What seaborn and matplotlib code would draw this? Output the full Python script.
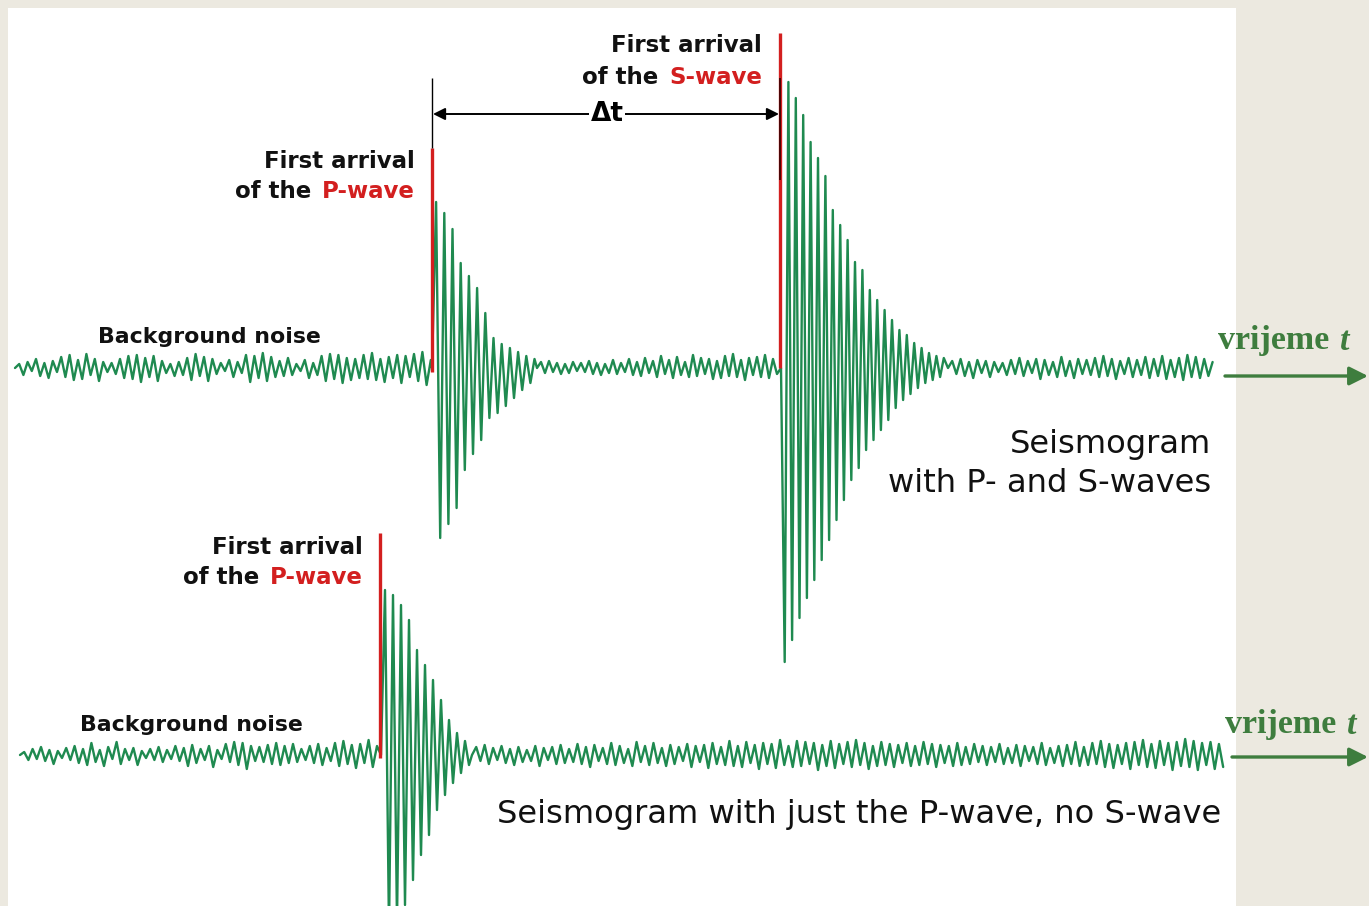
import numpy as np
import pandas as pd
import matplotlib
matplotlib.use("Agg")
import matplotlib.pyplot as plt
import seaborn as sns
from matplotlib.patches import Rectangle

# ---------------- data (pixel units, amplitude positive = up) ----------------
baselines = [368, 755]
p_arrivals = [432, 380]
s_arrival = 780

noise1_pre = [4,-7,6,-3,9,-8,5,-10,7,-4,11,-9,13,-12,8,-11,14,-7,9,-13,
              6,-4,5,-6,9,-10,12,-11,13,-14,10,-9,12,-13,7,-5,4,-8,6,-7,
              10,-12,14,-8,11,-13,9,-6,5,-3,8,-9,6,-5,13,-14,12,-10,15,-13,
              11,-9,7,-8,10,-7,4,-3,8,-10,5,-7,12,-13,14,-11,13,-15,10,-12,
              9,-10,13,-11,15,-12,9,-14,11,-10,13,-15,12,-9,14,-13,16,-17,8]
pwave1 = [166,-170,155,-156,139,-140,105,-102,92,-86,80,-72,55,-50,30,-45,
          24,-38,20,-30,16,-22,12,-15,9]
noise1_mid = [6,-5,7,-4,5,-6,4,-5,6,-3,5,-4,7,-6,5,-7,4,-5,8,-6,
              5,-4,9,-7,6,-8,10,-5,7,-9,12,-6,8,-10,11,-7,6,-9,13,-8,
              10,-6,9,-11,7,-10,12,-8,14,-9,8,-12,10,-7,11,-9,13,-10,9,-6]
swave1 = [-294,286,-272,270,-250,253,-230,226,-212,210,-192,192,-172,158,
          -152,143,-132,128,-112,106,-100,98,-82,78,-72,68,-62,58,-52,48,
          -40,38,-32,33,-26,25,-20,20,-15,15,-12,12,-9,10]
noise1_post = [7,-6,9,-8,6,-10,8,-5,7,-9,6,-4,5,-7,8,-6,10,-8,7,-5,
               9,-11,8,-7,6,-9,11,-8,7,-10,9,-6,8,-7,10,-9,12,-8,9,-11,
               7,-6,10,-9,8,-7,11,-10,9,-8,12,-11,8,-9,10,-12,13,-9,11,-10,
               9,-8,6]

noise2_pre = [3,-5,6,-4,8,-6,5,-9,4,-3,7,-5,9,-8,6,-10,12,-7,5,-11,
              8,-4,13,-9,6,-5,7,-10,4,-3,6,-5,8,-7,5,-4,9,-6,7,-11,
              10,-8,6,-5,9,-12,5,-4,11,-7,13,-10,12,-14,9,-6,8,-7,10,-9,
              12,-10,9,-8,11,-7,6,-5,9,-8,11,-10,7,-6,12,-11,14,-9,10,-13,
              11,-8,15,-12,9]
pwave2 = [165,-175,160,-168,150,-150,135,-125,105,-100,90,-80,75,-55,55,-40,
          35,-28,22,-18,14,-10]
noise2_post = [8,-6,10,-9,7,-5,9,-8,6,-10,8,-7,5,-6,9,-11,7,-5,8,-9,
               10,-8,6,-7,11,-9,8,-12,10,-6,7,-9,12,-10,9,-8,6,-11,13,-7,
               9,-10,12,-8,7,-11,10,-9,8,-6,11,-12,9,-7,10,-13,12,-9,8,-10,
               14,-11,9,-12,13,-8,10,-14,12,-9,11,-13,15,-10,9,-12,14,-11,13,-9,
               12,-15,10,-11,14,-13,11,-9,13,-12,15,-10,12,-14,9,-11,13,-10,11,-12,
               10,-8,12,-11,9,-10,13,-9,11,-12,10,-8,9,-11,12,-10,8,-9,11,-7,
               9,-10,8,-7,11,-9,7,-8,10,-11,9,-6,8,-9,12,-10,7,-8,9,-11,
               10,-9,13,-11,8,-10,12,-9,14,-12,11,-13,10,-9,12,-14,13,-10,15,-12,
               11,-13,14,-10,12,-15,13,-11,16,-12,14,-15,12,-10,13,-14,11,-12]

# ---------------- build traces ----------------
def build(name, baseline, segments):
    rows = []
    for x0, step, vals in segments:
        rows.append((name, x0, baseline))
        for i, v in enumerate(vals):
            rows.append((name, x0 + step * (i + 1), baseline - v))
    return rows

rows = []
rows += build("t1", baselines[0], [
    (15, 4.2, noise1_pre),
    (p_arrivals[0], 4.1, pwave1),
    (537, 4.0, noise1_mid),
    (s_arrival + 1, 3.7, swave1),
    (948, 4.2, noise1_post),
])
rows += build("t2", baselines[1], [
    (20, 4.2, noise2_pre),
    (p_arrivals[1] + 1, 4.0, pwave2),
    (472, 4.22, noise2_post),
])
df = pd.DataFrame(rows, columns=["trace", "x", "y"])

# ---------------- figure ----------------
sns.set_theme(style="white")
plt.rcParams["font.family"] = ["DejaVu Sans"]

GREEN = "#1f8a50"
RED = "#d31f1f"
DARKGREEN = "#3e7d3e"

fig = plt.figure(figsize=(13.69, 9.06), dpi=100, facecolor="#ECE9E0")
ax = fig.add_axes([0, 0, 1, 1])
ax.set_xlim(0, 1369)
ax.set_ylim(906, 0)
ax.axis("off")
ax.add_patch(Rectangle((8, 8), 1228, 900, fc="white", ec="none", zorder=0))

sns.lineplot(data=df, x="x", y="y", hue="trace", palette=[GREEN, GREEN],
             sort=False, estimator=None, legend=False, lw=1.7, ax=ax, zorder=2)

# arrival markers
ax.vlines(p_arrivals[0], 148, 372, color=RED, lw=2.4, zorder=3)
ax.vlines(p_arrivals[0], 78, 148, color="black", lw=1.0, zorder=3)
ax.vlines(s_arrival, 33, 368, color=RED, lw=2.4, zorder=3)
ax.vlines(s_arrival, 78, 180, color="#300", lw=1.2, zorder=4)
ax.vlines(p_arrivals[1], 533, 758, color=RED, lw=2.4, zorder=3)

# delta t arrow
ax.annotate("", xy=(s_arrival - 1, 114), xytext=(p_arrivals[0] + 1, 114),
            arrowprops=dict(arrowstyle="<|-|>", color="black", lw=1.4,
                            mutation_scale=18, shrinkA=0, shrinkB=0), zorder=5)
ax.text(607, 114, "Δt", ha="center", va="center", fontsize=19, fontweight="bold",
        color="black", zorder=6,
        bbox=dict(boxstyle="square,pad=0.05", fc="white", ec="none"))

lab = dict(fontsize=16.5, fontweight="bold", color="#111111", va="center")
# P arrival (trace 1)
ax.text(415, 162, "First arrival", ha="right", **lab)
ax.text(311, 191, "of the", ha="right", **lab)
ax.text(415, 191, "P-wave", ha="right", **{**lab, "color": RED})
# S arrival
ax.text(762, 46, "First arrival", ha="right", **lab)
ax.text(658, 77, "of the", ha="right", **lab)
ax.text(762, 77, "S-wave", ha="right", **{**lab, "color": RED})
# P arrival (trace 2)
ax.text(363, 548, "First arrival", ha="right", **lab)
ax.text(259, 577, "of the", ha="right", **lab)
ax.text(363, 577, "P-wave", ha="right", **{**lab, "color": RED})

noise_lab = dict(fontsize=15.8, fontweight="bold", color="#111111", va="center")
ax.text(98, 337, "Background noise", ha="left", **noise_lab)
ax.text(80, 725, "Background noise", ha="left", **noise_lab)

big = dict(fontsize=23.1, color="#111111", va="center", ha="right")
ax.text(1211, 445, "Seismogram", **big)
ax.text(1211, 483, "with P- and S-waves", **big)
ax.text(1221, 815, "Seismogram with just the P-wave, no S-wave", **big)

# time axis arrows
for (tx, ty, ay, ax0) in [(1218, 341, 376, 1225), (1225, 725, 757, 1232)]:
    ax.text(tx, ty, "vrijeme", ha="left", va="center", fontsize=24.5,
            fontweight="bold", color=DARKGREEN, family=["Liberation Serif"])
    ax.text(tx + 122, ty, "t", ha="left", va="center", fontsize=24.5,
            fontweight="bold", style="italic", color=DARKGREEN,
            family=["Liberation Serif"])
    ax.annotate("", xy=(1368, ay), xytext=(ax0, ay), annotation_clip=False,
                arrowprops=dict(arrowstyle="-|>", color=DARKGREEN, lw=2.4,
                                mutation_scale=28, shrinkA=0, shrinkB=0))

fig.savefig("out.png", dpi=100, facecolor=fig.get_facecolor())
